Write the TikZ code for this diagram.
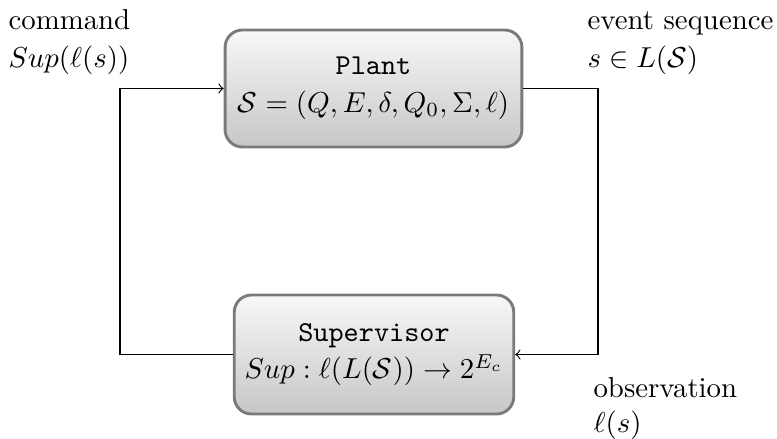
\documentclass[tikz,border=0pt]{standalone}
\usepackage{amsmath,amssymb}
\begin{document}
\begin{tikzpicture}[x=0.347pt,y=-0.347pt,
  blockbox/.style={draw=black!52,line width=1pt,rounded corners=6pt,
    top color=black!3,bottom color=black!22,align=center,inner sep=0pt},
  lbl/.style={anchor=base west,inner sep=0pt},
  conn/.style={draw=black,line width=0.4pt}]
\useasboundingbox (0,0) rectangle (777,438);
\node[blockbox,minimum width=103pt,minimum height=40.6pt] (plant) at (373.5,88.5)
  {\texttt{Plant}\\[1pt] $\mathcal{S}=(Q,E,\delta,Q_0,\Sigma,\ell)$};
\node[blockbox,minimum width=97pt,minimum height=41.3pt] (sup) at (374,354.5)
  {\texttt{Supervisor}\\[1pt] $Sup:\ell(L(\mathcal{S}))\rightarrow 2^{E_c}$};
\coordinate (lt) at (120,88.5);
\coordinate (lb) at (120,354.5);
\coordinate (rt) at (598,88.5);
\coordinate (rb) at (598,354.5);
\draw[conn,->] (sup.west) -- (lb) -- (lt) -- (plant.west);
\draw[conn,->] (plant.east) -- (rt) -- (rb) -- (sup.east);
\node[lbl] (c1) at (8,29) {command};
\node[lbl] (c2) at (8,67) {$Sup(\ell(s))$};
\node[lbl] (e1) at (587,29) {event sequence};
\node[lbl] (e2) at (587,67) {$s\in L(\mathcal{S})$};
\node[lbl] (o1) at (593,397) {observation};
\node[lbl] (o2) at (593,432) {$\ell(s)$};
\end{tikzpicture}
\end{document}
